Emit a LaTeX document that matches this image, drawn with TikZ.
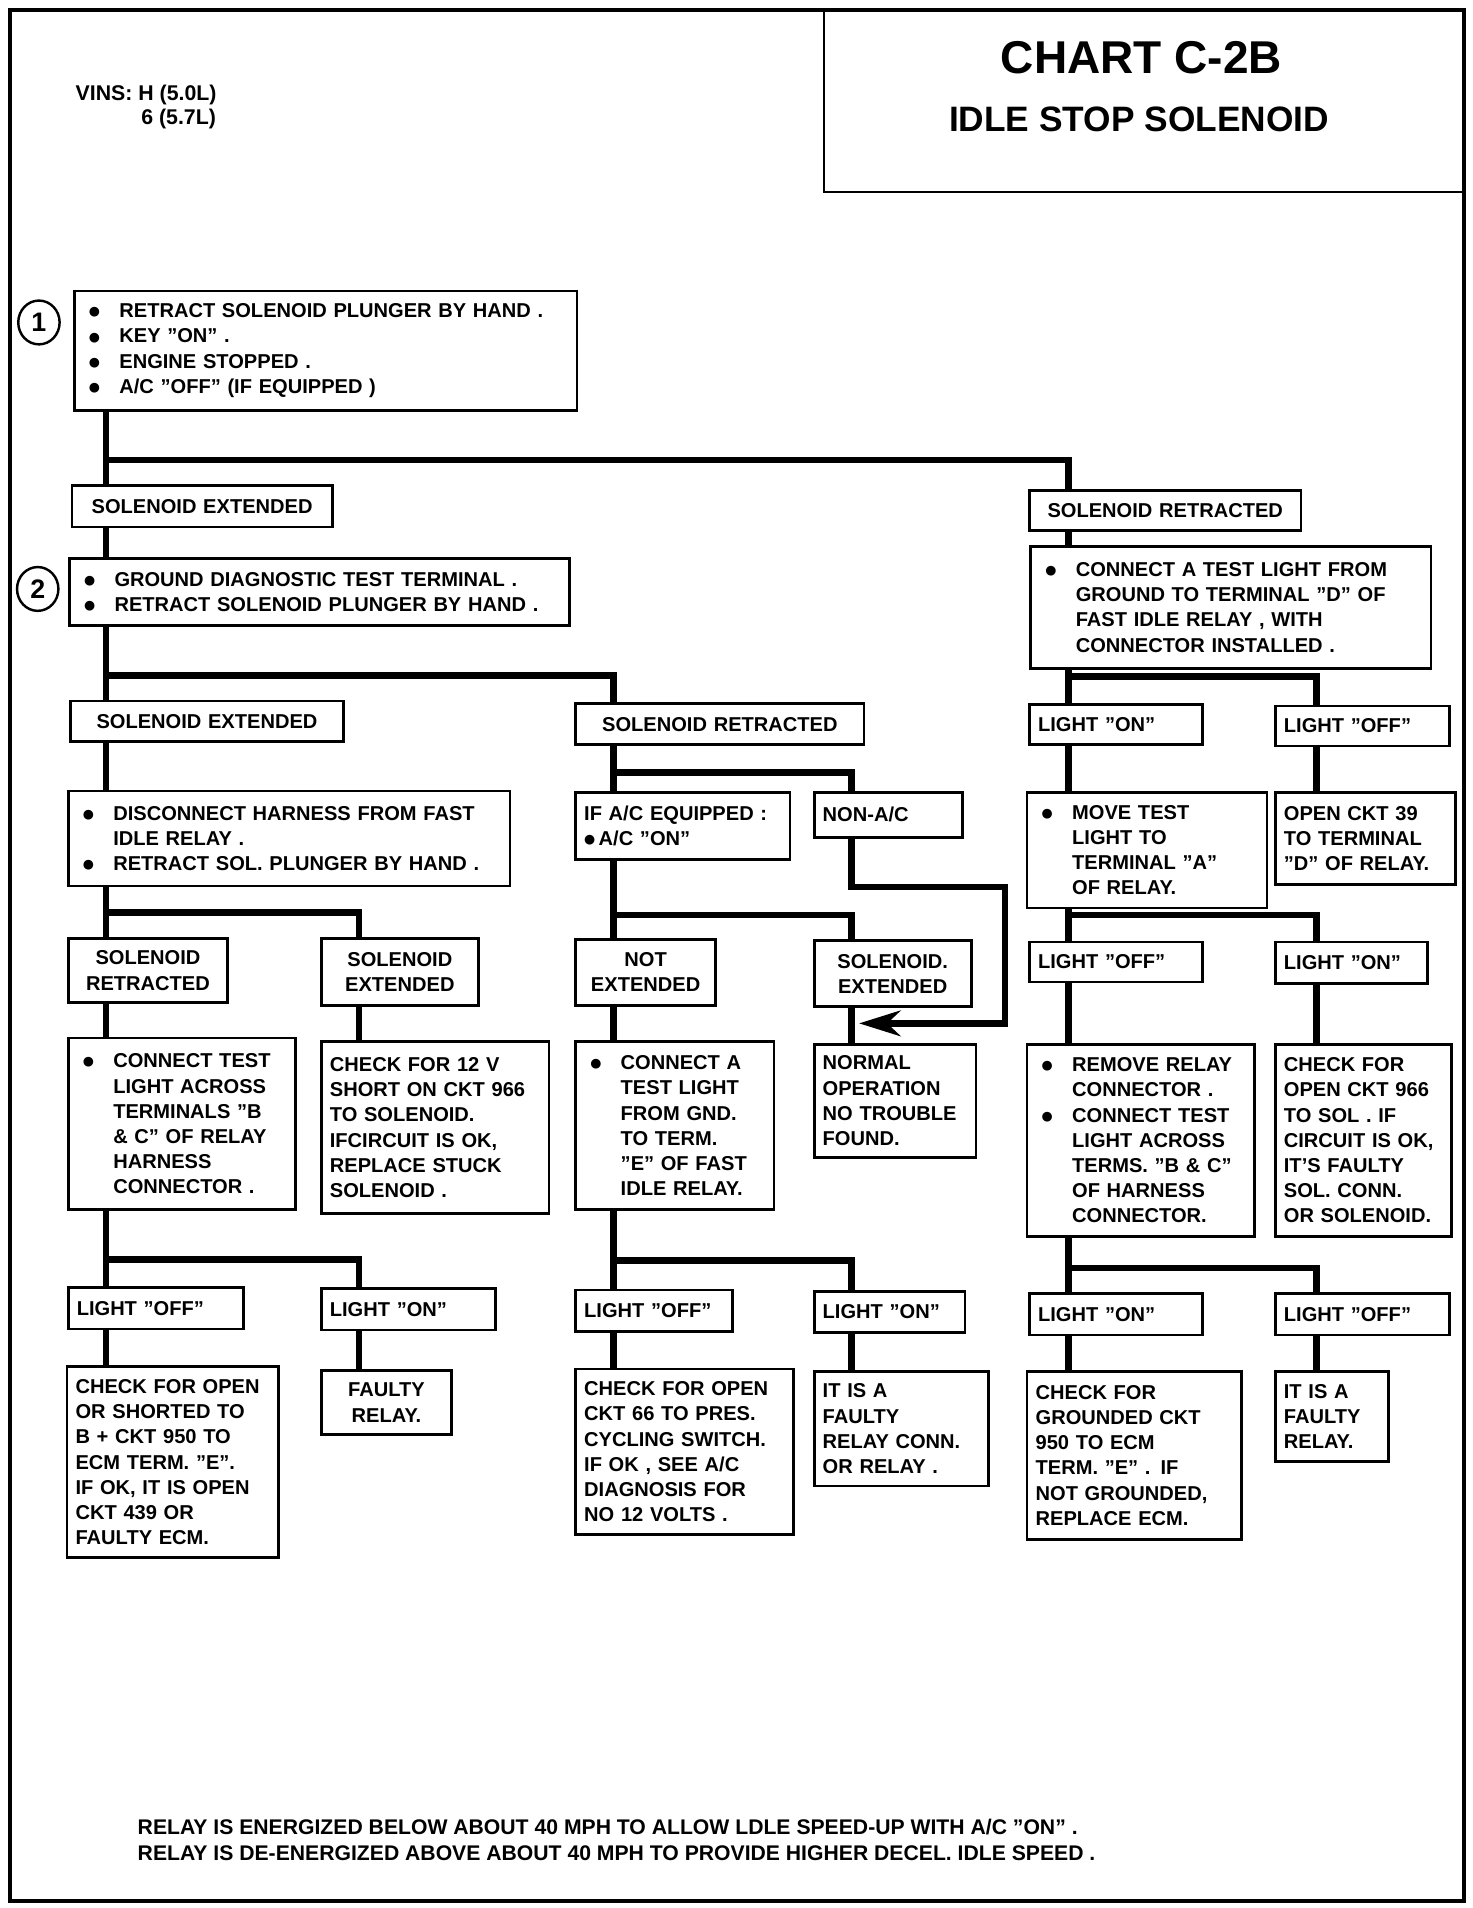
\documentclass[tikz,border=0pt]{standalone}
\usepackage{fontspec}
\setmainfont{Liberation Sans}
\newfontfamily\symfont{DejaVu Sans}
\usetikzlibrary{positioning,arrows.meta,shapes.geometric}

\newcommand{\chartfont}{\bfseries\fontsize{16.5}{20.7}\selectfont}
\newcommand{\dotmark}{\raisebox{1.5pt}{\symfont\fontsize{10.5}{12}\selectfont ●}}
\newcommand{\bul}{\makebox[30pt][l]{\hspace{5pt}\dotmark}}
\newcommand{\ind}{\hspace*{30pt}}

\begin{document}
\begin{tikzpicture}[
    x=1pt, y=-1pt,
    box/.style={draw, line width=2.2pt, anchor=north west, inner xsep=7pt, inner ysep=3pt, align=left, font=\chartfont},
    cbox/.style={box, align=center},
    num/.style={ellipse, draw, line width=2pt, minimum width=34pt, minimum height=36pt, inner sep=0pt, font=\bfseries\fontsize{22}{24}\selectfont},
    link/.style={line width=5.5pt},
    pointer/.style={link, -{Stealth[length=34pt, width=21pt, inset=11pt]}}
]
    \useasboundingbox (0,0) rectangle (1209.7,1568);
    \draw[line width=3pt] (8,8) rectangle (1203,1562);

    % Title
    \node[draw, line width=1.6pt, anchor=north west, minimum width=527pt, minimum height=149pt] (title) at (676,8) {};
    \node[font=\bfseries\fontsize{37.8}{40}\selectfont] (chart) at (938,47) {CHART C-2B};
    \node[font=\bfseries\fontsize{29}{32}\selectfont] (subject) at (936,98) {IDLE STOP SOLENOID};
    \node[anchor=west, align=left, inner sep=0pt, font=\bfseries\fontsize{17.5}{20}\selectfont] (vins) at (62,88) {VINS: H (5.0L)\\\hspace*{54pt}6 (5.7L)};

    % Columns and junctions
    \coordinate (colA) at (87,0);
    \coordinate (colA2) at (295,0);
    \coordinate (colB) at (504,0);
    \coordinate (colB2) at (700,0);
    \coordinate (colC) at (878,0);
    \coordinate (colC2) at (1082,0);

    % Step 1
    \node[num] (n1) at (32,265) {1};
    \node[box, text width=399pt, minimum height=98pt] (st1) at (60,238) {\bul RETRACT SOLENOID PLUNGER BY HAND .\\\bul KEY "ON" .\\\bul ENGINE STOPPED .\\\bul A/C "OFF" (IF EQUIPPED )};
    \node[cbox, text width=200pt, minimum height=34pt] (ext1) at (58,398) {SOLENOID EXTENDED};
    \node[cbox, text width=209pt, minimum height=33pt] (ret1) at (845,402) {SOLENOID RETRACTED};

    % Step 2
    \node[num] (n2) at (31,484) {2};
    \node[box, text width=397pt, minimum height=55pt] (st2) at (56,458) {\bul GROUND DIAGNOSTIC TEST TERMINAL .\\\bul RETRACT SOLENOID PLUNGER BY HAND .};
    \node[box, text width=315pt, minimum height=100pt] (tl1) at (846,448) {\bul CONNECT A TEST LIGHT FROM\\\ind GROUND TO TERMINAL "D" OF\\\ind FAST IDLE RELAY , WITH\\\ind CONNECTOR INSTALLED .};

    % Level 2
    \node[cbox, text width=210pt, minimum height=33pt] (ext2) at (57,575) {SOLENOID EXTENDED};
    \node[cbox, text width=223pt, minimum height=34pt] (ret2) at (472,577) {SOLENOID RETRACTED};
    \node[box, text width=128pt, minimum height=33pt] (on1) at (845,578) {LIGHT "ON"};
    \node[box, text width=129pt, minimum height=33pt] (off1) at (1047,579) {LIGHT "OFF"};

    \node[box, text width=349pt, minimum height=78pt] (disc) at (55,649) {\bul DISCONNECT HARNESS FROM FAST\\\ind IDLE RELAY .\\\bul RETRACT SOL. PLUNGER BY HAND .};
    \node[box, text width=162pt, minimum height=55pt] (ac) at (472,650) {IF A/C EQUIPPED :\\\dotmark\,A/C "ON"};
    \node[box, text width=108pt, minimum height=37pt] (nonac) at (668,650) {NON-A/C};
    \node[box, text width=183pt, minimum height=95pt] (move) at (843,650) {\bul MOVE TEST\\\ind LIGHT TO\\\ind TERMINAL "A"\\\ind OF RELAY.};
    \node[box, text width=134pt, minimum height=76pt] (open39) at (1047,650) {OPEN CKT 39\\TO TERMINAL\\"D" OF RELAY.};

    % Level 3
    \node[cbox, text width=117pt, minimum height=53pt] (ret3) at (55,770) {SOLENOID\\RETRACTED};
    \node[cbox, text width=115pt, minimum height=55pt] (ext3) at (263,770) {SOLENOID\\EXTENDED};
    \node[cbox, text width=101pt, minimum height=54pt] (notext) at (472,771) {NOT\\EXTENDED};
    \node[cbox, text width=115pt, minimum height=54pt] (ext4) at (668,772) {SOLENOID.\\EXTENDED};
    \node[box, text width=128pt, minimum height=33pt] (off2) at (845,773) {LIGHT "OFF"};
    \node[box, text width=111pt, minimum height=34pt] (on2) at (1047,773) {LIGHT "ON"};

    \node[box, text width=173pt, minimum height=141pt] (conn1) at (55,852) {\bul CONNECT TEST\\\ind LIGHT ACROSS\\\ind TERMINALS "B\\\ind \& C" OF RELAY\\\ind HARNESS\\\ind CONNECTOR .};
    \node[box, text width=173pt, minimum height=141pt] (chk12) at (263,855) {CHECK FOR 12 V\\SHORT ON CKT 966\\TO SOLENOID.\\IFCIRCUIT IS OK,\\REPLACE STUCK\\SOLENOID .};
    \node[box, text width=149pt, minimum height=138pt] (conn2) at (472,855) {\bul CONNECT A\\\ind TEST LIGHT\\\ind FROM GND.\\\ind TO TERM.\\\ind "E" OF FAST\\\ind IDLE RELAY.};
    \node[box, text width=119pt, minimum height=93pt] (normal) at (668,857) {NORMAL\\OPERATION\\NO TROUBLE\\FOUND.};
    \node[box, text width=173pt, minimum height=158pt] (remove) at (843,857) {\bul REMOVE RELAY\\\ind CONNECTOR .\\\bul CONNECT TEST\\\ind LIGHT ACROSS\\\ind TERMS. "B \& C"\\\ind OF HARNESS\\\ind CONNECTOR.};
    \node[box, text width=131pt, minimum height=158pt] (chk966) at (1047,857) {CHECK FOR\\OPEN CKT 966\\TO SOL . IF\\CIRCUIT IS OK,\\IT'S FAULTY\\SOL. CONN.\\OR SOLENOID.};

    % Level 4
    \node[box, text width=130pt, minimum height=34pt] (off3) at (55,1057) {LIGHT "OFF"};
    \node[box, text width=129pt, minimum height=34pt] (on3) at (263,1058) {LIGHT "ON"};
    \node[box, text width=115pt, minimum height=34pt] (off4) at (472,1059) {LIGHT "OFF"};
    \node[box, text width=110pt, minimum height=34pt] (on4) at (668,1060) {LIGHT "ON"};
    \node[box, text width=128pt, minimum height=34pt] (on5) at (845,1062) {LIGHT "ON"};
    \node[box, text width=129pt, minimum height=34pt] (off5) at (1047,1062) {LIGHT "OFF"};

    \node[box, text width=160pt, minimum height=157pt] (chk950) at (54,1122) {CHECK FOR OPEN\\OR SHORTED TO\\B + CKT 950 TO\\ECM TERM. "E".\\IF OK, IT IS OPEN\\CKT 439 OR\\FAULTY ECM.};
    \node[cbox, text width=93pt, minimum height=53pt] (faulty1) at (263,1125) {FAULTY\\RELAY.};
    \node[box, text width=165pt, minimum height=136pt] (chk66) at (472,1124) {CHECK FOR OPEN\\CKT 66 TO PRES.\\CYCLING SWITCH.\\IF OK , SEE A/C\\DIAGNOSIS FOR\\NO 12 VOLTS .};
    \node[box, text width=129pt, minimum height=94pt] (relay1) at (668,1126) {IT IS A\\FAULTY\\RELAY CONN.\\OR RELAY .};
    \node[box, text width=162pt, minimum height=138pt] (gnd) at (843,1126) {CHECK FOR\\GROUNDED CKT\\950 TO ECM\\TERM. "E" . IF\\NOT GROUNDED,\\REPLACE ECM.};
    \node[box, text width=79pt, minimum height=74pt] (faulty2) at (1047,1126) {IT IS A\\FAULTY\\RELAY.};

    % Footnote
    \node[anchor=west, align=left, inner sep=0pt, font=\bfseries\fontsize{17.4}{21.5}\selectfont] (note) at (113,1512) {RELAY IS ENERGIZED BELOW ABOUT 40 MPH TO ALLOW LDLE SPEED-UP WITH A/C "ON" .\\RELAY IS DE-ENERGIZED ABOVE ABOUT 40 MPH TO PROVIDE HIGHER DECEL. IDLE SPEED .};

    % Junctions
    \coordinate (j1) at (87,378);
    \coordinate (j2) at (87,555);
    \coordinate (j3) at (878,556);
    \coordinate (j4) at (504,635);
    \coordinate (j5) at (87,750);
    \coordinate (j6) at (504,752);
    \coordinate (j7) at (878,752);
    \coordinate (j8) at (87,1035);
    \coordinate (j9) at (504,1036);
    \coordinate (j10) at (878,1042);
    \coordinate (bend) at (826,729);
    \coordinate (tip) at (706,841);

    % Connectors
    \draw[link] (st1.south -| colA) -- (ext1.north -| colA);
    \draw[link] (j1) -| (ret1.north -| colC);
    \draw[link] (ext1.south -| colA) -- (st2.north -| colA);
    \draw[link] (ret1.south -| colC) -- (tl1.north -| colC);
    \draw[link] (st2.south -| colA) -- (ext2.north -| colA);
    \draw[link] (j2) -| (ret2.north -| colB);
    \draw[link] (tl1.south -| colC) -- (on1.north -| colC);
    \draw[link] (j3) -| (off1.north -| colC2);
    \draw[link] (ext2.south -| colA) -- (disc.north -| colA);
    \draw[link] (ret2.south -| colB) -- (ac.north -| colB);
    \draw[link] (j4) -| (nonac.north -| colB2);
    \draw[link] (on1.south -| colC) -- (move.north -| colC);
    \draw[link] (off1.south -| colC2) -- (open39.north -| colC2);
    \draw[link] (disc.south -| colA) -- (ret3.north -| colA);
    \draw[link] (j5) -| (ext3.north -| colA2);
    \draw[link] (ac.south -| colB) -- (notext.north -| colB);
    \draw[link] (j6) -| (ext4.north -| colB2);
    \draw[pointer] (nonac.south -| colB2) |- (bend) |- (tip);
    \draw[link] (move.south -| colC) -- (off2.north -| colC);
    \draw[link] (j7) -| (on2.north -| colC2);
    \draw[link] (ret3.south -| colA) -- (conn1.north -| colA);
    \draw[link] (ext3.south -| colA2) -- (chk12.north -| colA2);
    \draw[link] (notext.south -| colB) -- (conn2.north -| colB);
    \draw[link] (ext4.south -| colB2) -- (normal.north -| colB2);
    \draw[link] (off2.south -| colC) -- (remove.north -| colC);
    \draw[link] (on2.south -| colC2) -- (chk966.north -| colC2);
    \draw[link] (conn1.south -| colA) -- (off3.north -| colA);
    \draw[link] (j8) -| (on3.north -| colA2);
    \draw[link] (conn2.south -| colB) -- (off4.north -| colB);
    \draw[link] (j9) -| (on4.north -| colB2);
    \draw[link] (remove.south -| colC) -- (on5.north -| colC);
    \draw[link] (j10) -| (off5.north -| colC2);
    \draw[link] (off3.south -| colA) -- (chk950.north -| colA);
    \draw[link] (on3.south -| colA2) -- (faulty1.north -| colA2);
    \draw[link] (off4.south -| colB) -- (chk66.north -| colB);
    \draw[link] (on4.south -| colB2) -- (relay1.north -| colB2);
    \draw[link] (on5.south -| colC) -- (gnd.north -| colC);
    \draw[link] (off5.south -| colC2) -- (faulty2.north -| colC2);
\end{tikzpicture}
\end{document}
